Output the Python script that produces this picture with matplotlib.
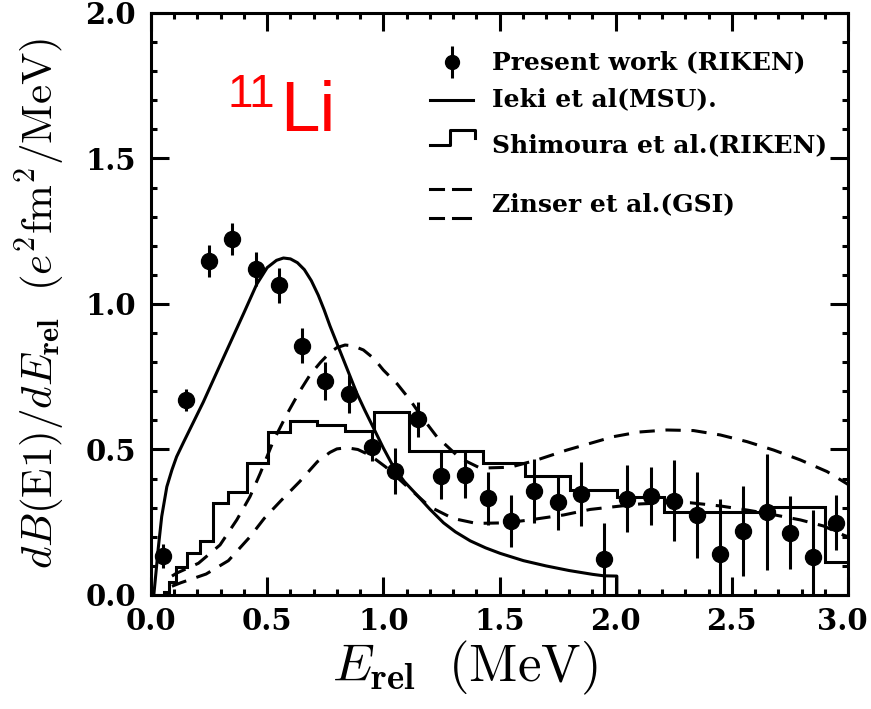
import matplotlib
matplotlib.use("Agg")
import matplotlib.pyplot as plt
import matplotlib.transforms as mtransforms
import numpy as np
from matplotlib.ticker import MultipleLocator

# Present work (RIKEN): data points with error bars
e_rel = [0.05, 0.15, 0.25, 0.35, 0.45, 0.55, 0.65, 0.75, 0.85, 0.95,
         1.05, 1.15, 1.25, 1.35, 1.45, 1.55, 1.65, 1.75, 1.85, 1.95,
         2.05, 2.15, 2.25, 2.35, 2.45, 2.55, 2.65, 2.75, 2.85, 2.95]
dbde = [0.134, 0.670, 1.148, 1.224, 1.121, 1.064, 0.856, 0.735, 0.690, 0.510,
        0.426, 0.604, 0.410, 0.413, 0.332, 0.255, 0.357, 0.319, 0.347, 0.124,
        0.330, 0.339, 0.324, 0.275, 0.141, 0.221, 0.286, 0.214, 0.132, 0.248]
dbde_err = [0.040, 0.037, 0.055, 0.056, 0.058, 0.060, 0.060, 0.065, 0.065, 0.050,
            0.080, 0.060, 0.080, 0.080, 0.090, 0.090, 0.110, 0.095, 0.110, 0.125,
            0.115, 0.100, 0.140, 0.147, 0.190, 0.155, 0.200, 0.125, 0.160, 0.095]

# Ieki et al. (MSU), solid curve
ieki_x = [0.012, 0.018, 0.024, 0.031, 0.046, 0.068, 0.09, 0.11, 0.14, 0.18,
          0.225, 0.28, 0.34, 0.40, 0.455, 0.50, 0.54, 0.57, 0.60, 0.63,
          0.66, 0.69, 0.72, 0.745, 0.77, 0.80, 0.83, 0.86, 0.886, 0.92,
          0.957, 1.0, 1.043, 1.09, 1.144, 1.20, 1.259, 1.31, 1.374, 1.44,
          1.503, 1.603, 1.70, 1.80, 1.90, 1.948, 2.005, 2.005]
ieki_y = [0.0, 0.05, 0.10, 0.16, 0.27, 0.372, 0.43, 0.475, 0.525, 0.59,
          0.663, 0.76, 0.865, 0.97, 1.068, 1.125, 1.150, 1.158, 1.155, 1.142,
          1.118, 1.080, 1.030, 0.980, 0.925, 0.865, 0.805, 0.745, 0.693, 0.635,
          0.575, 0.505, 0.441, 0.390, 0.344, 0.295, 0.248, 0.217, 0.186, 0.162,
          0.143, 0.118, 0.100, 0.084, 0.071, 0.066, 0.065, 0.0]

# Shimoura et al. (RIKEN), histogram
shim_edges = [0.056, 0.079, 0.108, 0.154, 0.211, 0.268, 0.333, 0.415, 0.505, 0.599,
              0.713, 0.835, 0.96, 1.11, 1.43, 1.61, 1.805, 2.005, 2.206, 2.65,
              2.90, 3.0]
shim_vals = [0.011, 0.046, 0.095, 0.145, 0.187, 0.315, 0.355, 0.453, 0.561, 0.598,
             0.584, 0.565, 0.628, 0.495, 0.453, 0.410, 0.360, 0.337, 0.285, 0.301,
             0.114]

# Zinser et al. (GSI), two dashed curves
zin_up_x = [0.09, 0.11, 0.204, 0.297, 0.369, 0.426, 0.47, 0.527, 0.584, 0.64,
            0.685, 0.73, 0.77, 0.80, 0.835, 0.87, 0.914, 0.96, 1.0, 1.06,
            1.115, 1.17, 1.23, 1.33, 1.417, 1.546, 1.661, 1.79, 1.99, 2.10,
            2.22, 2.335, 2.45, 2.565, 2.68, 2.795, 2.91, 3.0]
zin_up_y = [0.065, 0.075, 0.109, 0.172, 0.258, 0.338, 0.418, 0.53, 0.62, 0.70,
            0.757, 0.800, 0.833, 0.850, 0.859, 0.856, 0.842, 0.812, 0.773, 0.725,
            0.670, 0.607, 0.544, 0.470, 0.436, 0.439, 0.464, 0.498, 0.544, 0.560,
            0.567, 0.565, 0.550, 0.527, 0.498, 0.464, 0.424, 0.38]
zin_lo_x = [0.09, 0.128, 0.237, 0.333, 0.426, 0.487, 0.559, 0.639, 0.716, 0.77,
            0.80, 0.843, 0.89, 0.943, 1.01, 1.087, 1.2, 1.30, 1.40, 1.53,
            1.63, 1.776, 1.89, 1.99, 2.106, 2.22, 2.32, 2.45, 2.565, 2.666,
            2.795, 2.895, 2.98, 3.0]
zin_lo_y = [0.03, 0.042, 0.072, 0.118, 0.20, 0.263, 0.324, 0.389, 0.458, 0.490,
            0.502, 0.506, 0.500, 0.480, 0.440, 0.384, 0.303, 0.263, 0.246, 0.248,
            0.258, 0.275, 0.294, 0.303, 0.313, 0.317, 0.317, 0.306, 0.292, 0.278,
            0.258, 0.237, 0.206, 0.20]

plt.rcParams['mathtext.fontset'] = 'cm'
serif_bold = dict(family='DejaVu Serif', weight='bold')

fig = plt.figure(figsize=(8.71, 7.09), dpi=100)
ax = fig.add_axes([0.1734, 0.1608, 0.8002, 0.8209])

lw = 2.2
ax.plot(ieki_x, ieki_y, color='black', lw=lw)
ax.stairs(shim_vals, shim_edges, color='black', lw=lw, baseline=None)
ax.plot([shim_edges[0], shim_edges[0]], [0, shim_vals[0]], color='black', lw=lw)
ax.plot(zin_up_x, zin_up_y, color='black', lw=lw, dashes=(5, 3.5))
ax.plot(zin_lo_x, zin_lo_y, color='black', lw=lw, dashes=(5, 3.5))
ax.errorbar(e_rel, dbde, yerr=dbde_err, fmt='o', color='black', ms=11.5,
            elinewidth=lw, capsize=0, zorder=5)

ax.set_xlim(0, 3.0)
ax.set_ylim(0, 2.0)
ax.xaxis.set_minor_locator(MultipleLocator(0.1))
ax.yaxis.set_minor_locator(MultipleLocator(0.1))
ax.set_xticks(np.arange(0, 3.01, 0.5))
ax.set_xticklabels(['0.0', '0.5', '1.0', '1.5', '2.0', '2.5', '3.0'])
ax.set_yticks(np.arange(0, 2.01, 0.5))
ax.set_yticklabels(['0.0', '0.5', '1.0', '1.5', '2.0'])
ax.tick_params(which='both', direction='in', top=True, right=True, width=lw)
ax.tick_params(which='major', length=13)
ax.tick_params(axis='x', which='major', pad=9)
ax.tick_params(axis='y', which='major', pad=11)
ax.tick_params(which='minor', length=4.5)
for lab in ax.get_xticklabels() + ax.get_yticklabels():
    lab.set_fontfamily('DejaVu Serif')
    lab.set_fontweight('bold')
    lab.set_fontsize(21)
# keep the last x label inside the picture
last = ax.get_xticklabels()[-1]
last.set_transform(last.get_transform() +
                   mtransforms.ScaledTranslation(-4 / 72, 0, fig.dpi_scale_trans))
for sp in ax.spines.values():
    sp.set_linewidth(lw)

ax.set_xlabel(r'$E_{\mathbf{rel}}\ \ \mathrm{(MeV)}$', fontsize=38)
ax.xaxis.set_label_coords(0.45, -0.075, transform=ax.transAxes)
ax.xaxis.label.set_va('top')
ax.set_ylabel(r'$dB\mathrm{(E1)}/dE_{\mathbf{rel}}\ \ (e^2\mathrm{fm}^2/\mathrm{MeV})$',
              fontsize=31, labelpad=13)

# 11Li label
ax.text(0.185, 0.797, 'Li', transform=ax.transAxes, color='red',
        family='Liberation Sans', fontsize=51, va='baseline', ha='left')
ax.text(0.110, 0.838, '11', transform=ax.transAxes, color='red',
        family='Liberation Sans', fontsize=33, va='baseline', ha='left')

# legend drawn by hand
tx = 0.489
fs = 18
ax.errorbar([0.432], [0.916], yerr=[0.028], fmt='o', color='black', ms=10,
            elinewidth=lw, transform=ax.transAxes, clip_on=False)
ax.text(tx, 0.916, 'Present work (RIKEN)', transform=ax.transAxes, va='center',
        fontsize=fs, **serif_bold)
ax.plot([0.400, 0.462], [0.851, 0.851], color='black', lw=lw, transform=ax.transAxes)
ax.text(tx, 0.851, 'Ieki et al(MSU).', transform=ax.transAxes, va='center',
        fontsize=fs, **serif_bold)
ax.plot([0.400, 0.429, 0.429, 0.465, 0.465], [0.773, 0.773, 0.799, 0.799, 0.785],
        color='black', lw=lw, transform=ax.transAxes)
ax.text(tx, 0.773, 'Shimoura et al.(RIKEN)', transform=ax.transAxes, va='center',
        fontsize=fs, **serif_bold)
for yy in (0.698, 0.648):
    ax.plot([0.400, 0.419], [yy, yy], color='black', lw=lw, transform=ax.transAxes)
    ax.plot([0.433, 0.458], [yy, yy], color='black', lw=lw, transform=ax.transAxes)
ax.text(tx, 0.672, 'Zinser et al.(GSI)', transform=ax.transAxes, va='center',
        fontsize=fs, **serif_bold)

fig.savefig('out.png', dpi=100)
